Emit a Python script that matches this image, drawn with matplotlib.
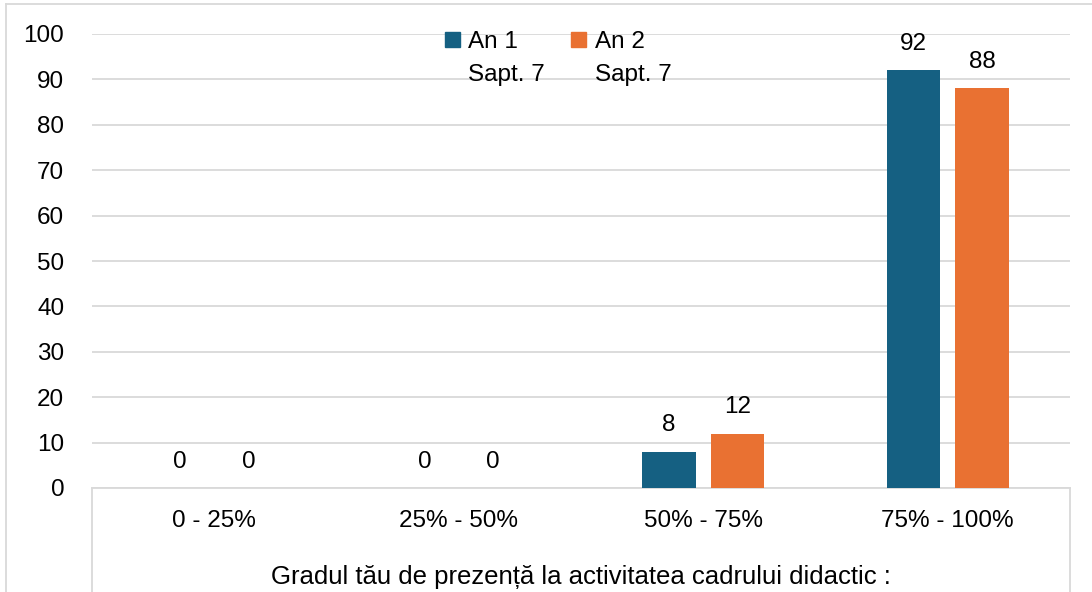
import matplotlib
matplotlib.use("Agg")
import matplotlib.pyplot as plt
from matplotlib.lines import Line2D
from matplotlib.patches import Patch
import numpy as np

categories = ["0 - 25%", "25% - 50%", "50% - 75%", "75% - 100%"]
an1 = [0, 0, 8, 92]
an2 = [0, 0, 12, 88]
series_labels = ["An 1\nSapt. 7", "An 2\nSapt. 7"]
yticks = list(range(0, 101, 10))
xtitle = "Gradul tău de prezență la activitatea cadrului didactic :"

blue = "#156082"
orange = "#E97132"
grid = "#D9D9D9"

plt.rcParams['font.family'] = ['Liberation Sans', 'DejaVu Sans']
FS = 17.5

W, H = 1092, 592
fig = plt.figure(figsize=(W / 100, H / 100), dpi=100)
ax = fig.add_axes([92 / W, 104 / H, (1070 - 92) / W, (488 - 34) / H])

x = np.arange(len(categories))
bw = 0.22
off = 0.14
b1 = ax.bar(x - off, an1, bw, color=blue, zorder=3)
b2 = ax.bar(x + off, an2, bw, color=orange, zorder=3)
for bars, vals in ((b1, an1), (b2, an2)):
    for rect, v in zip(bars, vals):
        ax.annotate(f"{v}", (rect.get_x() + rect.get_width() / 2, v),
                    xytext=(0, 11), textcoords="offset points",
                    ha="center", va="bottom", fontsize=FS, color="black")

ax.set_xlim(-0.5, len(categories) - 0.5)
ax.set_ylim(0, 100)
ax.set_yticks(yticks)
ax.yaxis.grid(True, color=grid, linewidth=1.3, zorder=0)
ax.set_xticks(x)
ax.set_xticklabels(categories, fontsize=FS)
ax.tick_params(axis='x', length=0, pad=16)
ax.tick_params(axis='y', length=0, pad=20, labelsize=FS)
for s in ["top", "right", "left"]:
    ax.spines[s].set_visible(False)
ax.spines["bottom"].set_color(grid)
ax.spines["bottom"].set_linewidth(1.3)

# x-axis title
fig.text((92 + 1070) / 2 / W, 1 - 577 / H, xtitle, ha="center", va="center", fontsize=18.5)

# box lines below the plot area
for xp in (92, 1070):
    fig.add_artist(Line2D([xp / W, xp / W], [1 - 488 / H, 1 - 592 / H],
                          transform=fig.transFigure, color=grid, linewidth=1.3))
# outer chart border (left and top)
fig.add_artist(Line2D([6 / W, 6 / W], [0, 1 - 4 / H], transform=fig.transFigure,
                      color=grid, linewidth=1.3))
fig.add_artist(Line2D([6 / W, 1], [1 - 4 / H, 1 - 4 / H], transform=fig.transFigure,
                      color=grid, linewidth=1.3))

# legend: first line next to the swatch, second line below it
first = [s.split("\n")[0] for s in series_labels]
second = [s.split("\n")[1] for s in series_labels]
handles = [Patch(color=blue), Patch(color=orange)]
leg = ax.legend(handles, first, ncol=2, loc="upper left",
                bbox_to_anchor=(445 / W, 1 - 31 / H), bbox_transform=fig.transFigure,
                frameon=False, fontsize=FS, handlelength=0.6, handleheight=0.6,
                handletextpad=0.35, columnspacing=2.2, borderaxespad=0, borderpad=0)
fig.canvas.draw()
inv = fig.transFigure.inverted()
for t, s in zip(leg.get_texts(), second):
    bb = t.get_window_extent()
    x0, yc = inv.transform((bb.x0, (bb.y0 + bb.y1) / 2))
    fig.text(x0, yc - 33 / H, s, ha="left", va="center", fontsize=FS)

fig.savefig("out.png", dpi=100, facecolor="white")
